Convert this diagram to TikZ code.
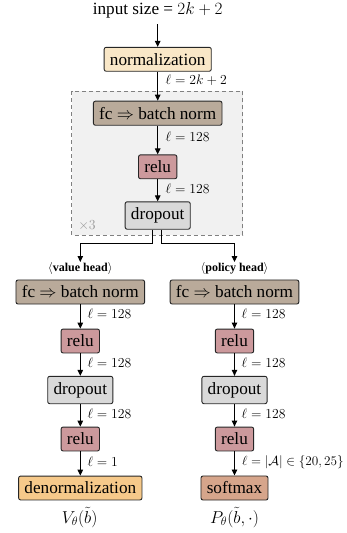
\RequirePackage{fix-cm}
\documentclass[tikz,border=0pt]{standalone}
\usepackage{fontspec}
\setmainfont{Liberation Serif}
\usetikzlibrary{arrows.meta}
\definecolor{normc}{HTML}{F9E7C7}
\definecolor{fcc}{HTML}{B9AA9A}
\definecolor{reluc}{HTML}{CC999C}
\definecolor{dropc}{HTML}{D9D9D9}
\definecolor{denc}{HTML}{F6C98A}
\definecolor{softc}{HTML}{D6A58B}
\definecolor{bgc}{HTML}{F1F1F1}
\tikzset{
  layer/.style={draw=black!85, line width=0.9pt, rounded corners=2pt, inner xsep=5.8pt, inner ysep=5.9pt, font=\fontsize{17.2}{20}\selectfont},
  lab/.style={anchor=west, inner sep=0pt, font=\fontsize{13.7}{16}\selectfont},
  head/.style={inner sep=0pt, font=\fontsize{12}{14}\selectfont},
  outtxt/.style={inner sep=0pt, font=\fontsize{17.2}{20}\selectfont},
  conn/.style={line width=0.9pt, -{Triangle[length=6pt,width=5.5pt]}},
  plain/.style={line width=0.9pt}
}
\begin{document}
\begin{tikzpicture}[x=1pt,y=-1pt]
\useasboundingbox (0,0) rectangle (347,533);
% repeated block background
\draw[draw=black!50, fill=bgc, line width=0.7pt, dash pattern=on 4pt off 3pt] (71.5,91) rectangle (242.8,235);
\node[inner sep=0pt, text=black!40, font=\fontsize{13.8}{16}\selectfont] (times) at (87,225.5) {$\times 3$};

\node[outtxt, inner ysep=6.3pt] (in) at (157.7,10) {input size = $2k+2$};
\node[layer, fill=normc] (norm) at (157.7,59.3) {normalization};
\node[layer, fill=fcc] (fc) at (157.7,113.2) {fc $\Rightarrow$ batch norm};
\node[layer, fill=reluc] (relu) at (157.7,166.8) {relu};
\node[layer, fill=dropc] (drop) at (157.7,215.5) {dropout};

\draw[conn] (in) -- (norm);
\draw[conn] (norm) -- (fc);
\draw[conn] (fc) -- (relu);
\draw[conn] (relu) -- (drop);
\node[lab] (l1) at (165.5,80.7) {$\ell = 2k+2$};
\node[lab] (l2) at (165.5,136.7) {$\ell = 128$};
\node[lab] (l3) at (165.5,188.3) {$\ell = 128$};

% split
\coordinate (sl) at (152.8,243.3);
\coordinate (sr) at (161.8,243.3);
\node[head] (vh) at (80.3,268.3) {$\langle$\textbf{value head}$\rangle$};
\node[head] (ph) at (234.5,268.3) {$\langle$\textbf{policy head}$\rangle$};
\coordinate (vt) at (80.3,262);
\coordinate (pt) at (234.5,262);
\draw[conn] (drop.south -| sl) -- (sl) -| (vt);
\draw[conn] (drop.south -| sr) -- (sr) -| (pt);

% value head
\node[layer, fill=fcc] (vfc) at (80.3,292) {fc $\Rightarrow$ batch norm};
\node[layer, fill=reluc] (vr1) at (80.3,341) {relu};
\node[layer, fill=dropc] (vd) at (80.3,390) {dropout};
\node[layer, fill=reluc] (vr2) at (80.3,439) {relu};
\node[layer, fill=denc] (vden) at (80.3,488) {denormalization};
\node[outtxt] (vout) at (79.7,517.5) {$V_\theta(\tilde{b})$};
\draw[conn] (vfc) -- (vr1);
\draw[conn] (vr1) -- (vd);
\draw[conn] (vd) -- (vr2);
\draw[conn] (vr2) -- (vden);
\node[lab] (vl1) at (87.3,314) {$\ell = 128$};
\node[lab] (vl2) at (87.3,362.7) {$\ell = 128$};
\node[lab] (vl3) at (87.3,414) {$\ell = 128$};
\node[lab] (vl4) at (87.3,461.7) {$\ell = 1$};

% policy head
\node[layer, fill=fcc] (pfc) at (234.5,292) {fc $\Rightarrow$ batch norm};
\node[layer, fill=reluc] (pr1) at (234.5,341) {relu};
\node[layer, fill=dropc] (pd) at (234.5,390) {dropout};
\node[layer, fill=reluc] (pr2) at (234.5,439) {relu};
\node[layer, fill=softc] (psm) at (234.5,488) {softmax};
\node[outtxt] (pout) at (234.5,517.5) {$P_\theta(\tilde{b},\cdot)$};
\draw[conn] (pfc) -- (pr1);
\draw[conn] (pr1) -- (pd);
\draw[conn] (pd) -- (pr2);
\draw[conn] (pr2) -- (psm);
\node[lab] (pl1) at (241.5,314) {$\ell = 128$};
\node[lab] (pl2) at (241.5,362.7) {$\ell = 128$};
\node[lab] (pl3) at (241.5,414) {$\ell = 128$};
\node[lab, font=\fontsize{13.2}{15}\selectfont] (pl4) at (241.8,461.7) {$\ell = |\mathcal{A}| \in \{20,25\}$};
\end{tikzpicture}
\end{document}
